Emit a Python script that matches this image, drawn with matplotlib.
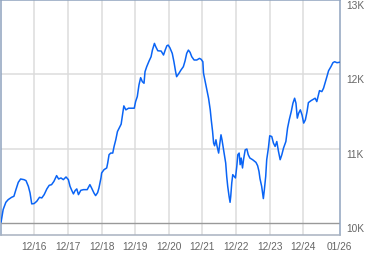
import matplotlib
matplotlib.use("Agg")
import matplotlib.pyplot as plt
import numpy as np

# decimal-year dates and index values
dates = [2015.93, 2015.99, 2016.07, 2016.14, 2016.24, 2016.31, 2016.37, 2016.44, 2016.51, 2016.61,
         2016.67, 2016.74, 2016.79, 2016.84, 2016.91, 2016.99, 2017.07, 2017.14, 2017.21, 2017.29,
         2017.36, 2017.43, 2017.50, 2017.58, 2017.64, 2017.71, 2017.78, 2017.86, 2017.93, 2017.98,
         2018.03, 2018.08, 2018.13, 2018.18, 2018.23, 2018.30, 2018.38, 2018.49, 2018.57, 2018.62,
         2018.69, 2018.74, 2018.80, 2018.84, 2018.87, 2018.90, 2018.92, 2018.99, 2019.07, 2019.10,
         2019.14, 2019.19, 2019.25, 2019.29, 2019.34, 2019.39, 2019.44, 2019.50, 2019.54, 2019.58,
         2019.64, 2019.72, 2019.89, 2019.93, 2019.98, 2020.03, 2020.08, 2020.13, 2020.18, 2020.21,
         2020.26, 2020.33, 2020.39, 2020.43, 2020.49, 2020.53, 2020.59, 2020.69, 2020.76, 2020.81,
         2020.86, 2020.90, 2020.95, 2021.02, 2021.07, 2021.12, 2021.15, 2021.22, 2021.28, 2021.35,
         2021.40, 2021.45, 2021.50, 2021.55, 2021.60, 2021.67, 2021.75, 2021.83, 2021.88, 2021.93,
         2021.95, 2022.00, 2022.05, 2022.10, 2022.15, 2022.18, 2022.22, 2022.25, 2022.28, 2022.32,
         2022.35, 2022.40, 2022.43, 2022.47, 2022.50, 2022.53, 2022.57, 2022.61, 2022.64, 2022.67,
         2022.71, 2022.74, 2022.76, 2022.79, 2022.82, 2022.86, 2022.90, 2022.94, 2022.97, 2023.01,
         2023.04, 2023.07, 2023.11, 2023.14, 2023.19, 2023.24, 2023.28, 2023.33, 2023.41, 2023.51,
         2023.56, 2023.60, 2023.63, 2023.68, 2023.73, 2023.76, 2023.80, 2023.83, 2023.88, 2023.92,
         2023.98, 2024.03, 2024.08, 2024.13, 2024.18, 2024.23, 2024.28, 2024.33, 2024.40, 2024.45,
         2024.50, 2024.56, 2024.61, 2024.66, 2024.70, 2024.74, 2024.78, 2024.83, 2024.88, 2024.93,
         2024.98, 2025.03, 2025.07, 2025.15, 2025.22, 2025.27, 2025.32, 2025.37, 2025.40, 2025.47,
         2025.52, 2025.57, 2025.62, 2025.67, 2025.74, 2025.80, 2025.85, 2025.92, 2025.99]
values = [10016, 10181, 10278, 10314, 10345, 10359, 10448, 10546, 10591, 10582,
          10569, 10492, 10404, 10257, 10261, 10292, 10345, 10337, 10381, 10458,
          10506, 10515, 10559, 10636, 10591, 10605, 10582, 10618, 10582, 10492,
          10439, 10391, 10435, 10458, 10381, 10439, 10448, 10448, 10515, 10471,
          10404, 10368, 10408, 10471, 10538, 10605, 10672, 10716, 10739, 10805,
          10917, 10939, 10939, 11028, 11117, 11228, 11274, 11327, 11452, 11572,
          11519, 11541, 11541, 11630, 11697, 11853, 11951, 11897, 11876, 12031,
          12098, 12174, 12232, 12321, 12411, 12366, 12312, 12308, 12255, 12321,
          12379, 12388, 12352, 12277, 12165, 12031, 11964, 12010, 12054, 12098,
          12174, 12277, 12321, 12291, 12232, 12188, 12188, 12210, 12197, 12165,
          12010, 11897, 11786, 11675, 11519, 11385, 11228, 11073, 11037, 11117,
          11037, 10939, 11050, 11184, 11117, 11028, 10917, 10805, 10626, 10492,
          10359, 10278, 10359, 10538, 10649, 10626, 10605, 10760, 10917, 10939,
          10783, 10872, 10739, 10850, 10983, 10993, 10917, 10872, 10850, 10814,
          10769, 10693, 10595, 10492, 10328, 10448, 10626, 10850, 11006, 11171,
          11161, 11073, 11028, 11094, 10961, 10850, 10917, 11006, 11094, 11274,
          11385, 11496, 11608, 11675, 11608, 11408, 11474, 11519, 11452, 11341,
          11385, 11496, 11616, 11643, 11662, 11675, 11630, 11719, 11777, 11764,
          11809, 11884, 11964, 12044, 12098, 12152, 12165, 12152, 12157]

xtick_pos = [2016.917, 2017.917, 2018.917, 2019.917, 2020.917, 2021.917,
             2022.917, 2023.917, 2024.917, 2026.0]
xtick_labels = ["12/16", "12/17", "12/18", "12/19", "12/20", "12/21",
                "12/22", "12/23", "12/24", "01/26"]
ytick_pos = [10000, 11000, 12000, 13000]
ytick_labels = ["10K", "11K", "12K", "13K"]

plt.rcParams['font.family'] = ['Liberation Sans', 'DejaVu Sans']

W, H = 379, 255
fig = plt.figure(figsize=(W / 100, H / 100), dpi=100)
ax = fig.add_axes([1 / W, (H - 235.5) / H, 339 / W, 235 / H])

ax.set_xlim(2015.926, 2026.01)
ax.set_ylim(9846, 13000)

grid_c = "#dcdcdc"
for xt in xtick_pos[:-1]:
    ax.axvline(xt, color=grid_c, lw=1.1, zorder=1)
for yt in ytick_pos[1:3]:
    ax.axhline(yt, color=grid_c, lw=1.1, zorder=1)
ax.axhline(ytick_pos[0], color="#999999", lw=1.0, zorder=1)

ax.plot(dates, values, color="#0a64f5", lw=1.1, zorder=3, solid_joinstyle="round")

spine_c = "#8fa3bf"
for s in ax.spines.values():
    s.set_color(spine_c)
    s.set_linewidth(1.1)
ax.spines['bottom'].set_color("#a8b2c0")

ax.set_xticks(xtick_pos)
ax.set_xticklabels(xtick_labels)
ax.yaxis.tick_right()
ax.set_yticks(ytick_pos)
ax.set_yticklabels(ytick_labels)
ax.tick_params(axis='both', length=0, labelsize=7.3, labelcolor="#666666")
ax.tick_params(axis='x', pad=4.5)
ax.tick_params(axis='y', pad=4.5)
for lab in ax.get_yticklabels():
    lab.set_verticalalignment('top')
    lab.set_horizontalalignment('left')

fig.savefig("out.png", dpi=100, facecolor="white")
